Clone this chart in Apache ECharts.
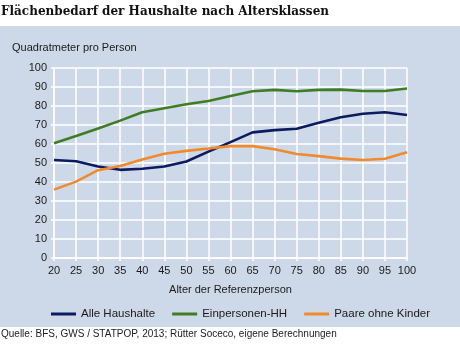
<!DOCTYPE html>
<html>
<head>
<meta charset="utf-8">
<script src="https://cdn.jsdelivr.net/npm/echarts@6/dist/echarts.min.js"></script>
<style>
  html, body { margin: 0; padding: 0; background: #ffffff; }
  #chart { width: 460px; height: 348px; }
</style>
</head>
<body>
<div id="chart"></div>
<script>
// Age of the reference person (years)
const ages = [20, 25, 30, 35, 40, 45, 50, 55, 60, 65, 70, 75, 80, 85, 90, 95, 100];

// Floor space per person (m²)
const alleHaushalte   = [51.6, 50.9, 48.2, 46.4, 47.0, 48.2, 50.8, 56.0, 61.0, 66.1, 67.3, 68.0, 71.2, 74.1, 75.9, 76.7, 75.3];
const einpersonenHH   = [60.4, 64.2, 68.2, 72.3, 76.7, 78.8, 80.9, 82.6, 85.3, 87.8, 88.5, 87.8, 88.5, 88.6, 87.9, 87.9, 89.2];
const paareOhneKinder = [36.0, 40.2, 46.2, 48.4, 51.9, 54.9, 56.4, 57.6, 58.9, 58.9, 57.2, 54.7, 53.6, 52.3, 51.6, 52.2, 55.6];

const seriesNames = ['Alle Haushalte', 'Einpersonen-HH', 'Paare ohne Kinder'];
const seriesColors = ['#0c1a60', '#3f7d22', '#f08a2a'];

const pairs = vals => ages.map((a, i) => [a, vals[i]]);

const chart = echarts.init(document.getElementById('chart'), null, { renderer: 'canvas' });

const txt = '#1a1a1a';
const sans = 'Liberation Sans, Arial, sans-serif';

chart.setOption({
  animation: false,
  backgroundColor: '#ffffff',
  graphic: [
    {
      type: 'rect',
      z: -10,
      silent: true,
      shape: { x: 0, y: 26, width: 460, height: 301 },
      style: { fill: '#cdd9e9' }
    }
  ],
  title: [
    {
      text: 'Flächenbedarf der Haushalte nach Altersklassen',
      left: 1, top: 6, padding: 0,
      textStyle: { fontFamily: 'DejaVu Serif, serif', fontWeight: 'bold', fontSize: 12, color: '#111' }
    },
    {
      text: 'Quadratmeter pro Person',
      left: 12, top: 42, padding: 0,
      textStyle: { fontFamily: sans, fontWeight: 'normal', fontSize: 11, color: txt }
    },
    {
      text: 'Quelle: BFS, GWS / STATPOP, 2013; Rütter Soceco, eigene Berechnungen',
      left: 1, top: 329, padding: 0,
      textStyle: { fontFamily: sans, fontWeight: 'normal', fontSize: 10, color: '#222' }
    }
  ],
  legend: {
    bottom: 23,
    left: 46,
    itemWidth: 25,
    itemHeight: 3,
    itemGap: 17,
    icon: 'rect',
    textStyle: { fontFamily: sans, fontSize: 11.5, color: txt },
    data: seriesNames
  },
  grid: { left: 54, right: 53, top: 68, bottom: 90, containLabel: false },
  xAxis: {
    type: 'value',
    min: 20, max: 100, interval: 5,
    name: 'Alter der Referenzperson',
    nameLocation: 'middle',
    nameGap: 26,
    nameTextStyle: { fontFamily: sans, fontSize: 11, color: txt },
    axisLine: { show: true, lineStyle: { color: '#ffffff', width: 1.5 } },
    axisTick: { show: true, length: 3, lineStyle: { color: '#ffffff', width: 1.5 } },
    axisLabel: { fontFamily: sans, fontSize: 11, color: txt, margin: 7 },
    splitLine: { show: true, lineStyle: { color: '#ffffff', width: 1.5 } }
  },
  yAxis: {
    type: 'value',
    min: 0, max: 100, interval: 10,
    axisLine: { show: true, lineStyle: { color: '#ffffff', width: 1.5 } },
    axisTick: { show: true, length: 3, lineStyle: { color: '#ffffff', width: 1.5 } },
    axisLabel: { fontFamily: sans, fontSize: 11, color: txt, margin: 7 },
    splitLine: { show: true, lineStyle: { color: '#ffffff', width: 1.5 } }
  },
  series: [alleHaushalte, einpersonenHH, paareOhneKinder].map((vals, i) => ({
    name: seriesNames[i],
    type: 'line',
    data: pairs(vals),
    showSymbol: false,
    symbol: 'none',
    color: seriesColors[i],
    lineStyle: { width: 2.6, color: seriesColors[i] }
  }))
});
</script>
</body>
</html>
